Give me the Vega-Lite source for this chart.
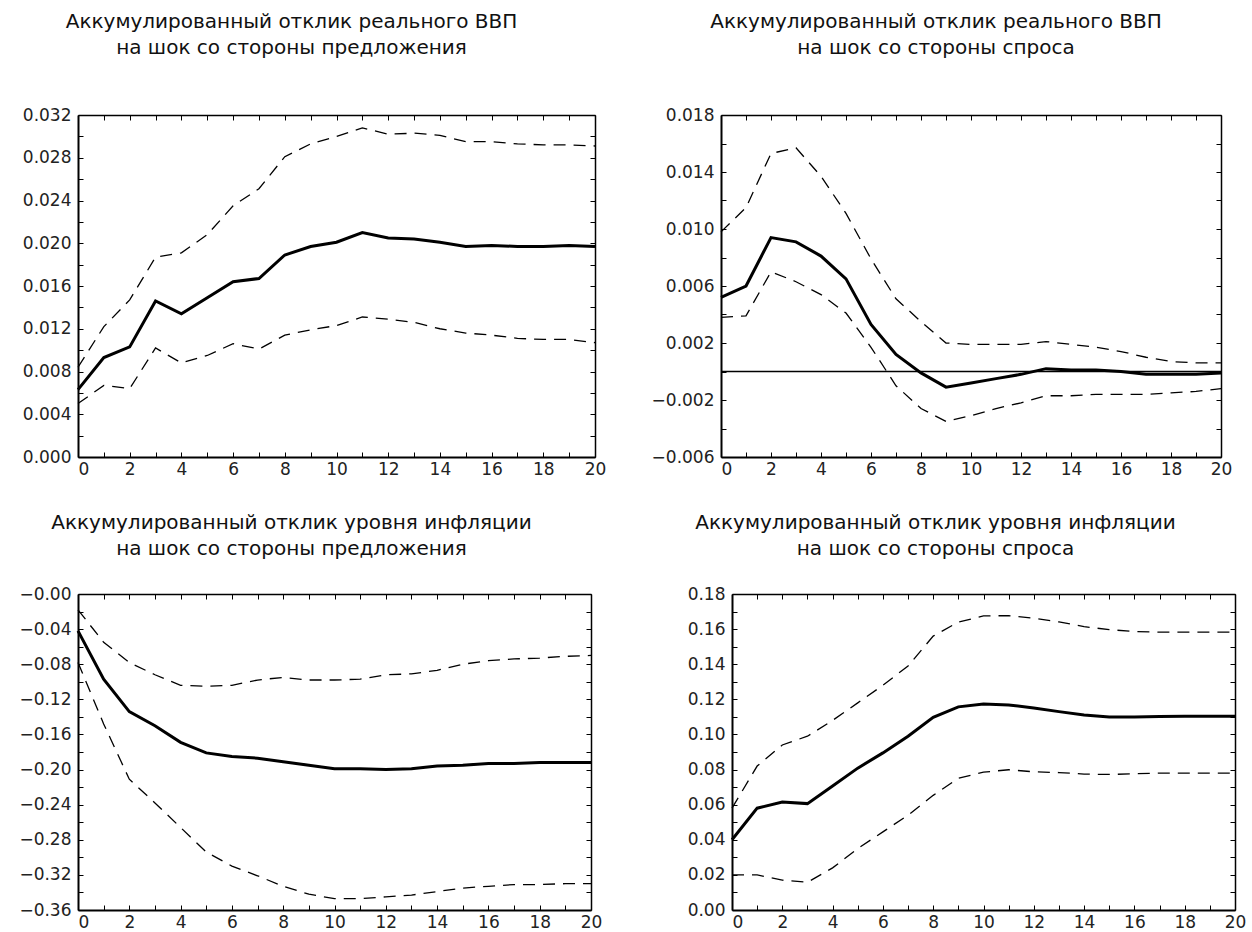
{
  "$schema": "https://vega.github.io/schema/vega-lite/v6.json",
  "padding": {"left": 18, "top": 12, "right": 5, "bottom": 5},
  "background": "white",
  "config": {
    "view": {"stroke": null},
    "font": "DejaVu Sans",
    "axis": {"labelFont": "DejaVu Sans", "labelFontSize": 17, "labelColor": "#222", "tickColor": "#000", "domainColor": "#000", "grid": false, "tickWidth": 1, "labelOverlap": false},
    "title": {"font": "DejaVu Sans", "fontSize": 20, "fontWeight": "normal", "color": "#111", "lineHeight": 26}
  },
  "datasets": {
    "p1": [
      {"t": 0, "mid": 0.0063, "lo": 0.0050, "hi": 0.0084},
      {"t": 1, "mid": 0.0093, "lo": 0.0067, "hi": 0.0122},
      {"t": 2, "mid": 0.0103, "lo": 0.0064, "hi": 0.0147},
      {"t": 3, "mid": 0.0146, "lo": 0.0102, "hi": 0.0187},
      {"t": 4, "mid": 0.0134, "lo": 0.0088, "hi": 0.0191},
      {"t": 5, "mid": 0.0149, "lo": 0.0095, "hi": 0.0208},
      {"t": 6, "mid": 0.0164, "lo": 0.0106, "hi": 0.0235},
      {"t": 7, "mid": 0.0167, "lo": 0.0101, "hi": 0.0251},
      {"t": 8, "mid": 0.0189, "lo": 0.0114, "hi": 0.0281},
      {"t": 9, "mid": 0.0197, "lo": 0.0119, "hi": 0.0293},
      {"t": 10, "mid": 0.0201, "lo": 0.0123, "hi": 0.0300},
      {"t": 11, "mid": 0.0210, "lo": 0.0131, "hi": 0.0308},
      {"t": 12, "mid": 0.0205, "lo": 0.0129, "hi": 0.0302},
      {"t": 13, "mid": 0.0204, "lo": 0.0126, "hi": 0.0303},
      {"t": 14, "mid": 0.0201, "lo": 0.0120, "hi": 0.0301},
      {"t": 15, "mid": 0.0197, "lo": 0.0116, "hi": 0.0295},
      {"t": 16, "mid": 0.0198, "lo": 0.0114, "hi": 0.0295},
      {"t": 17, "mid": 0.0197, "lo": 0.0111, "hi": 0.0293},
      {"t": 18, "mid": 0.0197, "lo": 0.0110, "hi": 0.0292},
      {"t": 19, "mid": 0.0198, "lo": 0.0110, "hi": 0.0292},
      {"t": 20, "mid": 0.0197, "lo": 0.0107, "hi": 0.0291}
    ],
    "p2": [
      {"t": 0, "mid": 0.0052, "lo": 0.0038, "hi": 0.0098},
      {"t": 1, "mid": 0.0060, "lo": 0.0039, "hi": 0.0115},
      {"t": 2, "mid": 0.0094, "lo": 0.0070, "hi": 0.0153},
      {"t": 3, "mid": 0.0091, "lo": 0.0063, "hi": 0.0157},
      {"t": 4, "mid": 0.0081, "lo": 0.0054, "hi": 0.0137},
      {"t": 5, "mid": 0.0065, "lo": 0.0041, "hi": 0.0111},
      {"t": 6, "mid": 0.0033, "lo": 0.0017, "hi": 0.0079},
      {"t": 7, "mid": 0.0012, "lo": -0.0010, "hi": 0.0051},
      {"t": 8, "mid": -0.0001, "lo": -0.0026, "hi": 0.0035},
      {"t": 9, "mid": -0.0011, "lo": -0.0035, "hi": 0.0020},
      {"t": 10, "mid": -0.0008, "lo": -0.0031, "hi": 0.0019},
      {"t": 11, "mid": -0.0005, "lo": -0.0026, "hi": 0.0019},
      {"t": 12, "mid": -0.0002, "lo": -0.0022, "hi": 0.0019},
      {"t": 13, "mid": 0.0002, "lo": -0.0017, "hi": 0.0021},
      {"t": 14, "mid": 0.0001, "lo": -0.0017, "hi": 0.0019},
      {"t": 15, "mid": 0.0001, "lo": -0.0016, "hi": 0.0017},
      {"t": 16, "mid": 0.0000, "lo": -0.0016, "hi": 0.0014},
      {"t": 17, "mid": -0.0002, "lo": -0.0016, "hi": 0.0010},
      {"t": 18, "mid": -0.0002, "lo": -0.0015, "hi": 0.0007},
      {"t": 19, "mid": -0.0002, "lo": -0.0014, "hi": 0.0006},
      {"t": 20, "mid": -0.0001, "lo": -0.0012, "hi": 0.0006}
    ],
    "p3": [
      {"t": 0, "mid": -0.042, "lo": -0.078, "hi": -0.018},
      {"t": 1, "mid": -0.097, "lo": -0.148, "hi": -0.055},
      {"t": 2, "mid": -0.134, "lo": -0.211, "hi": -0.078},
      {"t": 3, "mid": -0.150, "lo": -0.238, "hi": -0.092},
      {"t": 4, "mid": -0.169, "lo": -0.266, "hi": -0.104},
      {"t": 5, "mid": -0.181, "lo": -0.294, "hi": -0.105},
      {"t": 6, "mid": -0.185, "lo": -0.310, "hi": -0.104},
      {"t": 7, "mid": -0.187, "lo": -0.321, "hi": -0.098},
      {"t": 8, "mid": -0.191, "lo": -0.333, "hi": -0.095},
      {"t": 9, "mid": -0.195, "lo": -0.342, "hi": -0.098},
      {"t": 10, "mid": -0.199, "lo": -0.347, "hi": -0.098},
      {"t": 11, "mid": -0.199, "lo": -0.347, "hi": -0.097},
      {"t": 12, "mid": -0.200, "lo": -0.345, "hi": -0.092},
      {"t": 13, "mid": -0.199, "lo": -0.343, "hi": -0.091},
      {"t": 14, "mid": -0.196, "lo": -0.339, "hi": -0.087},
      {"t": 15, "mid": -0.195, "lo": -0.335, "hi": -0.080},
      {"t": 16, "mid": -0.193, "lo": -0.333, "hi": -0.076},
      {"t": 17, "mid": -0.193, "lo": -0.331, "hi": -0.074},
      {"t": 18, "mid": -0.192, "lo": -0.331, "hi": -0.073},
      {"t": 19, "mid": -0.192, "lo": -0.330, "hi": -0.071},
      {"t": 20, "mid": -0.192, "lo": -0.330, "hi": -0.070}
    ],
    "p4": [
      {"t": 0, "mid": 0.0400, "lo": 0.0200, "hi": 0.058},
      {"t": 1, "mid": 0.0580, "lo": 0.0200, "hi": 0.082},
      {"t": 2, "mid": 0.0615, "lo": 0.0170, "hi": 0.094},
      {"t": 3, "mid": 0.0606, "lo": 0.0158, "hi": 0.099},
      {"t": 4, "mid": 0.0706, "lo": 0.0240, "hi": 0.108},
      {"t": 5, "mid": 0.0808, "lo": 0.0350, "hi": 0.118},
      {"t": 6, "mid": 0.0895, "lo": 0.0445, "hi": 0.128},
      {"t": 7, "mid": 0.0990, "lo": 0.0540, "hi": 0.139},
      {"t": 8, "mid": 0.1098, "lo": 0.0653, "hi": 0.156},
      {"t": 9, "mid": 0.1157, "lo": 0.0750, "hi": 0.164},
      {"t": 10, "mid": 0.1174, "lo": 0.0785, "hi": 0.1675},
      {"t": 11, "mid": 0.1168, "lo": 0.0799, "hi": 0.1677},
      {"t": 12, "mid": 0.1151, "lo": 0.0787, "hi": 0.1662},
      {"t": 13, "mid": 0.1130, "lo": 0.0783, "hi": 0.1641},
      {"t": 14, "mid": 0.1111, "lo": 0.0774, "hi": 0.1614},
      {"t": 15, "mid": 0.1100, "lo": 0.0772, "hi": 0.1597},
      {"t": 16, "mid": 0.1100, "lo": 0.0776, "hi": 0.1586},
      {"t": 17, "mid": 0.1102, "lo": 0.0780, "hi": 0.1583},
      {"t": 18, "mid": 0.1104, "lo": 0.0780, "hi": 0.1583},
      {"t": 19, "mid": 0.1104, "lo": 0.0780, "hi": 0.1583},
      {"t": 20, "mid": 0.1104, "lo": 0.0780, "hi": 0.1583}
    ]
  },
  "spacing": 36,
  "vconcat": [
    {
      "spacing": 126,
      "bounds": "flush",
      "hconcat": [
        {
          "width": 517, "height": 342,
          "title": {"text": ["Аккумулированный отклик реального ВВП", "на шок со стороны предложения"], "frame": "group", "anchor": "middle", "offset": 48, "dx": -45},
          "data": {"name": "p1"},
          "layer": [
            {
              "mark": {"type": "line", "color": "black", "strokeWidth": 3},
              "encoding": {
                "x": {"field": "t", "type": "quantitative", "scale": {"domain": [0, 20], "nice": false, "zero": false},
                  "axis": {"orient": "bottom", "title": null, "values": [0,1,2,3,4,5,6,7,8,9,10,11,12,13,14,15,16,17,18,19,20], "format": "d", "labelExpr": "datum.value % 2 == 0 ? datum.label : ''", "tickSize": -5, "labelPadding": 9, "domainWidth": 2, "labelFlush": false, "labelAlign": {"condition": {"test": "datum.value == 0", "value": "left"}, "value": "center"}}},
                "y": {"field": "mid", "type": "quantitative", "scale": {"domain": [0, 0.032], "nice": false, "zero": false},
                  "axis": {"orient": "left", "title": null, "values": [0,0.002,0.004,0.006,0.008,0.01,0.012,0.014,0.016,0.018,0.02,0.022,0.024,0.026,0.028,0.03,0.032], "labelExpr": "round(datum.value*1000) % 4 == 0 ? format(datum.value, '.3f') : ''", "tickSize": -5, "labelPadding": 12, "domainWidth": 2}}
              }
            },
            {
              "transform": [{"fold": ["lo", "hi"], "as": ["band", "v"]}],
              "mark": {"type": "line", "color": "black", "strokeWidth": 1.3, "strokeDash": [12, 8]},
              "encoding": {
                "x": {"field": "t", "type": "quantitative", "scale": {"domain": [0, 20], "nice": false, "zero": false},
                  "axis": {"orient": "top", "title": null, "labels": false, "values": [0,1,2,3,4,5,6,7,8,9,10,11,12,13,14,15,16,17,18,19,20], "tickSize": -5, "domainWidth": 1.5}},
                "y": {"field": "v", "type": "quantitative", "scale": {"domain": [0, 0.032], "nice": false, "zero": false},
                  "axis": {"orient": "right", "title": null, "labels": false, "values": [0,0.002,0.004,0.006,0.008,0.01,0.012,0.014,0.016,0.018,0.02,0.022,0.024,0.026,0.028,0.03,0.032], "tickSize": -5, "domainWidth": 1.5}},
                "detail": {"field": "band", "type": "nominal"}
              }
            }
          ],
          "resolve": {"axis": {"x": "independent", "y": "independent"}}
        },
        {
          "width": 500, "height": 342,
          "title": {"text": ["Аккумулированный отклик реального ВВП", "на шок со стороны спроса"], "frame": "group", "anchor": "middle", "offset": 48, "dx": -35},
          "data": {"name": "p2"},
          "layer": [
            {
              "data": {"values": [{"z": 0}]},
              "mark": {"type": "rule", "color": "black", "strokeWidth": 1.5},
              "encoding": {
                "y": {"field": "z", "type": "quantitative", "scale": {"domain": [-0.006, 0.018], "nice": false, "zero": false}, "axis": null}
              }
            },
            {
              "mark": {"type": "line", "color": "black", "strokeWidth": 3},
              "encoding": {
                "x": {"field": "t", "type": "quantitative", "scale": {"domain": [0, 20], "nice": false, "zero": false},
                  "axis": {"orient": "bottom", "title": null, "values": [0,1,2,3,4,5,6,7,8,9,10,11,12,13,14,15,16,17,18,19,20], "format": "d", "labelExpr": "datum.value % 2 == 0 ? datum.label : ''", "tickSize": -5, "labelPadding": 9, "domainWidth": 2, "labelFlush": false, "labelAlign": {"condition": {"test": "datum.value == 0", "value": "left"}, "value": "center"}}},
                "y": {"field": "mid", "type": "quantitative", "scale": {"domain": [-0.006, 0.018], "nice": false, "zero": false},
                  "axis": {"orient": "left", "title": null, "values": [-0.006,-0.004,-0.002,0,0.002,0.004,0.006,0.008,0.01,0.012,0.014,0.016,0.018], "labelExpr": "(round(datum.value*1000)+6) % 4 == 0 ? format(datum.value, '.3f') : ''", "tickSize": -5, "labelPadding": 12, "domainWidth": 2}}
              }
            },
            {
              "transform": [{"fold": ["lo", "hi"], "as": ["band", "v"]}],
              "mark": {"type": "line", "color": "black", "strokeWidth": 1.3, "strokeDash": [12, 8]},
              "encoding": {
                "x": {"field": "t", "type": "quantitative", "scale": {"domain": [0, 20], "nice": false, "zero": false},
                  "axis": {"orient": "top", "title": null, "labels": false, "values": [0,1,2,3,4,5,6,7,8,9,10,11,12,13,14,15,16,17,18,19,20], "tickSize": -5, "domainWidth": 1.5}},
                "y": {"field": "v", "type": "quantitative", "scale": {"domain": [-0.006, 0.018], "nice": false, "zero": false},
                  "axis": {"orient": "right", "title": null, "labels": false, "values": [-0.006,-0.004,-0.002,0,0.002,0.004,0.006,0.008,0.01,0.012,0.014,0.016,0.018], "tickSize": -5, "domainWidth": 1.5}},
                "detail": {"field": "band", "type": "nominal"}
              }
            }
          ],
          "resolve": {"axis": {"x": "independent", "y": "independent"}}
        }
      ]
    },
    {
      "spacing": 141,
      "bounds": "flush",
      "hconcat": [
        {
          "width": 513, "height": 316,
          "title": {"text": ["Аккумулированный отклик уровня инфляции", "на шок со стороны предложения"], "frame": "group", "anchor": "middle", "offset": 26, "dx": -43},
          "data": {"name": "p3"},
          "layer": [
            {
              "mark": {"type": "line", "color": "black", "strokeWidth": 3},
              "encoding": {
                "x": {"field": "t", "type": "quantitative", "scale": {"domain": [0, 20], "nice": false, "zero": false},
                  "axis": {"orient": "bottom", "title": null, "values": [0,1,2,3,4,5,6,7,8,9,10,11,12,13,14,15,16,17,18,19,20], "format": "d", "labelExpr": "datum.value % 2 == 0 ? datum.label : ''", "tickSize": -5, "labelPadding": 9, "domainWidth": 2, "labelFlush": false, "labelAlign": {"condition": {"test": "datum.value == 0", "value": "left"}, "value": "center"}}},
                "y": {"field": "mid", "type": "quantitative", "scale": {"domain": [-0.36, 0], "nice": false, "zero": false},
                  "axis": {"orient": "left", "title": null, "values": [0,-0.02,-0.04,-0.06,-0.08,-0.1,-0.12,-0.14,-0.16,-0.18,-0.2,-0.22,-0.24,-0.26,-0.28,-0.3,-0.32,-0.34,-0.36], "labelExpr": "round(datum.value*100) % 4 == 0 ? (datum.value == 0 ? '−0.00' : format(datum.value, '.2f')) : ''", "tickSize": -5, "labelPadding": 12, "domainWidth": 2}}
              }
            },
            {
              "transform": [{"fold": ["lo", "hi"], "as": ["band", "v"]}],
              "mark": {"type": "line", "color": "black", "strokeWidth": 1.3, "strokeDash": [12, 8]},
              "encoding": {
                "x": {"field": "t", "type": "quantitative", "scale": {"domain": [0, 20], "nice": false, "zero": false},
                  "axis": {"orient": "top", "title": null, "labels": false, "values": [0,1,2,3,4,5,6,7,8,9,10,11,12,13,14,15,16,17,18,19,20], "tickSize": -5, "domainWidth": 1.5}},
                "y": {"field": "v", "type": "quantitative", "scale": {"domain": [-0.36, 0], "nice": false, "zero": false},
                  "axis": {"orient": "right", "title": null, "labels": false, "values": [0,-0.02,-0.04,-0.06,-0.08,-0.1,-0.12,-0.14,-0.16,-0.18,-0.2,-0.22,-0.24,-0.26,-0.28,-0.3,-0.32,-0.34,-0.36], "tickSize": -5, "domainWidth": 1.5}},
                "detail": {"field": "band", "type": "nominal"}
              }
            }
          ],
          "resolve": {"axis": {"x": "independent", "y": "independent"}}
        },
        {
          "width": 503, "height": 316,
          "title": {"text": ["Аккумулированный отклик уровня инфляции", "на шок со стороны спроса"], "frame": "group", "anchor": "middle", "offset": 26, "dx": -48},
          "data": {"name": "p4"},
          "layer": [
            {
              "mark": {"type": "line", "color": "black", "strokeWidth": 3},
              "encoding": {
                "x": {"field": "t", "type": "quantitative", "scale": {"domain": [0, 20], "nice": false, "zero": false},
                  "axis": {"orient": "bottom", "title": null, "values": [0,1,2,3,4,5,6,7,8,9,10,11,12,13,14,15,16,17,18,19,20], "format": "d", "labelExpr": "datum.value % 2 == 0 ? datum.label : ''", "tickSize": -5, "labelPadding": 9, "domainWidth": 2, "labelFlush": false, "labelAlign": {"condition": {"test": "datum.value == 0", "value": "left"}, "value": "center"}}},
                "y": {"field": "mid", "type": "quantitative", "scale": {"domain": [0, 0.18], "nice": false, "zero": false},
                  "axis": {"orient": "left", "title": null, "values": [0,0.01,0.02,0.03,0.04,0.05,0.06,0.07,0.08,0.09,0.1,0.11,0.12,0.13,0.14,0.15,0.16,0.17,0.18], "labelExpr": "round(datum.value*100) % 2 == 0 ? format(datum.value, '.2f') : ''", "tickSize": -5, "labelPadding": 12, "domainWidth": 2}}
              }
            },
            {
              "transform": [{"fold": ["lo", "hi"], "as": ["band", "v"]}],
              "mark": {"type": "line", "color": "black", "strokeWidth": 1.3, "strokeDash": [12, 8]},
              "encoding": {
                "x": {"field": "t", "type": "quantitative", "scale": {"domain": [0, 20], "nice": false, "zero": false},
                  "axis": {"orient": "top", "title": null, "labels": false, "values": [0,1,2,3,4,5,6,7,8,9,10,11,12,13,14,15,16,17,18,19,20], "tickSize": -5, "domainWidth": 1.5}},
                "y": {"field": "v", "type": "quantitative", "scale": {"domain": [0, 0.18], "nice": false, "zero": false},
                  "axis": {"orient": "right", "title": null, "labels": false, "values": [0,0.01,0.02,0.03,0.04,0.05,0.06,0.07,0.08,0.09,0.1,0.11,0.12,0.13,0.14,0.15,0.16,0.17,0.18], "tickSize": -5, "domainWidth": 1.5}},
                "detail": {"field": "band", "type": "nominal"}
              }
            }
          ],
          "resolve": {"axis": {"x": "independent", "y": "independent"}}
        }
      ]
    }
  ]
}
